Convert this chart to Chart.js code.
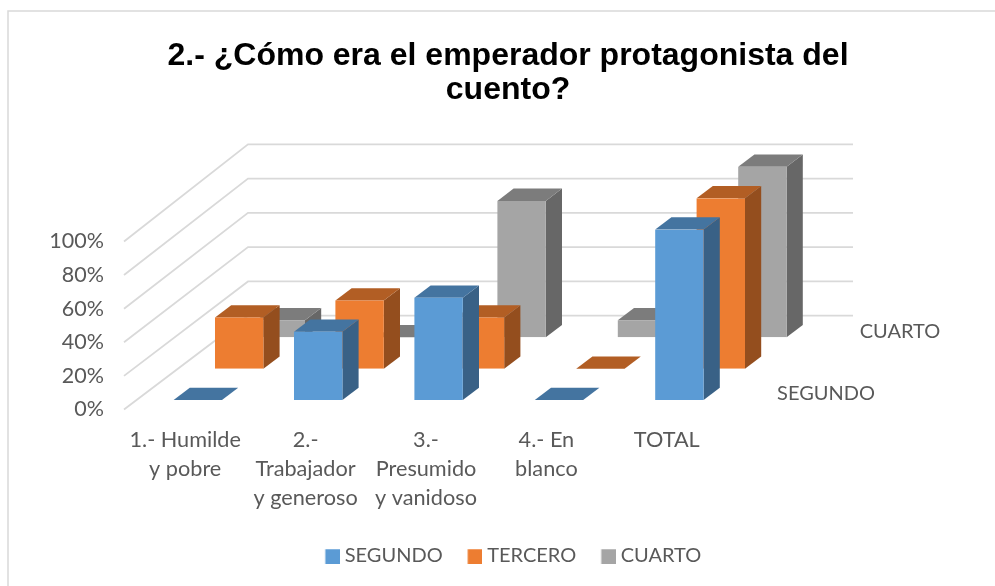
<!DOCTYPE html>
<html><head><meta charset="utf-8">
<style>html,body{margin:0;padding:0;background:#fff}#w{width:995px;height:586px}</style>
<script src="https://cdn.jsdelivr.net/npm/chart.js@4"></script>
</head><body><div id="w"><canvas id="c" width="995" height="586"></canvas></div>
<script>
const categories = [["1.- Humilde","y pobre"],["2.-","Trabajador","y generoso"],["3.-","Presumido","y vanidoso"],["4.- En","blanco"],"TOTAL"];
const segundo = [0, 40, 60, 0, 100];
const tercero = [30, 40, 30, 0, 100];
const cuarto = [10, 0, 80, 10, 100];
const seriesNames = ["SEGUNDO","TERCERO","CUARTO"];
const depthLabels = ["SEGUNDO","CUARTO"];
const titleLines = ["2.- ¿Cómo era el emperador protagonista del","cuento?"];

const FACE = ["#5b9bd5","#ed7d31","#a5a5a5"];
const TOP = ["#4474a0","#b25e24","#7c7c7c"];
const SIDE = ["#396186","#944e1e","#676767"];
const SHIFT = [{dx:12.6,dy:-9.5},{dx:54,dy:-40.8},{dx:95.6,dy:-72.2}];
const K = 171.5/169, DX = 16.2, DY = 12.3;

function swatch(col){
  const c=document.createElement('canvas');c.width=20;c.height=15;
  const g=c.getContext('2d');g.fillStyle=col;g.fillRect(5.5,0.5,14.5,14.5);return c;
}
const depthBars = {
  id:'depthBars',
  beforeDatasetDraw(chart,args){
    const i=args.index,s=SHIFT[i],ctx=chart.ctx,y0=chart.scales.y.getPixelForValue(0);
    ctx.save();
    ctx.transform(1,0,0,K,s.dx,y0+s.dy-K*y0);
    const dy=DY/K;
    args.meta.data.forEach(b=>{
      const l=b.x-b.width/2,r=b.x+b.width/2,t=b.y,bs=b.base;
      ctx.fillStyle=SIDE[i];
      ctx.beginPath();ctx.moveTo(r,t);ctx.lineTo(r+DX,t-dy);ctx.lineTo(r+DX,bs-dy);ctx.lineTo(r,bs);ctx.closePath();ctx.fill();
      ctx.fillStyle=TOP[i];
      ctx.beginPath();ctx.moveTo(l,t);ctx.lineTo(l+DX,t-dy);ctx.lineTo(r+DX,t-dy);ctx.lineTo(r,t);ctx.closePath();ctx.fill();
    });
  },
  afterDatasetDraw(chart){chart.ctx.restore();},
  beforeDatasetsDraw(chart){
    const ctx=chart.ctx,y=chart.scales.y,y0=y.getPixelForValue(0);
    ctx.save();
    ctx.strokeStyle='#d9d9d9';ctx.lineWidth=1.8;
    y.ticks.forEach(t=>{
      const p=y.getPixelForValue(t.value),by=315.7-(y0-p)*172.4/169;
      ctx.beginPath();ctx.moveTo(124,p);ctx.lineTo(248,by);ctx.lineTo(853,by);ctx.stroke();
    });
    ctx.restore();
  },
  afterDraw(chart){
    const ctx=chart.ctx;
    ctx.save();
    ctx.fillStyle='#595959';ctx.font='20px Lato';ctx.textAlign='center';ctx.textBaseline='middle';
    ctx.fillText(depthLabels[0],826,394);
    ctx.fillText(depthLabels[1],900,332);
    ctx.restore();
  },
  beforeDraw(chart){
    const ctx=chart.ctx;
    ctx.save();ctx.strokeStyle='#d9d9d9';ctx.lineWidth=1.5;
    ctx.strokeRect(8,11,990,590);
    ctx.restore();
  },
  afterLayout(chart){chart.legend.left+=5;chart.legend.right+=5;}
};

const mk=(data,i)=>({label:seriesNames[i],data,backgroundColor:FACE[i],borderWidth:0,barPercentage:0.402,categoryPercentage:1,grouped:false,pointStyle:swatch(FACE[i])});
new Chart(document.getElementById('c'),{
  type:'bar',
  data:{labels:categories,datasets:[mk(segundo,0),mk(tercero,1),mk(cuarto,2)]},
  plugins:[depthBars],
  options:{
    responsive:false,animation:false,
    layout:{padding:{left:21,right:0,top:39,bottom:10}},
    plugins:{
      tooltip:{enabled:false},
      title:{display:true,text:titleLines,color:'#000',font:{family:'"Liberation Sans"',size:32,weight:'bold',lineHeight:1.07},padding:{top:0,bottom:134}},
      legend:{position:'bottom',labels:{usePointStyle:true,boxWidth:10,boxHeight:15,padding:24.5,color:'#595959',font:{family:'Lato',size:20}}}
    },
    scales:{
      x:{grid:{display:false},border:{display:false},ticks:{color:'#595959',font:{family:'Lato',size:21.7,lineHeight:1.34},padding:8,maxRotation:0,autoSkip:false},afterFit(s){s.height=112;}},
      y:{min:0,max:100,grid:{display:false},border:{display:false},ticks:{stepSize:20,color:'#595959',font:{family:'Lato',size:21.5},padding:13,callback:v=>v+'%'},afterFit(s){s.width=104;}},
      yR:{position:'right',min:0,max:100,grid:{display:false},border:{display:false},ticks:{display:false},afterFit(s){s.width=268;}}
    }
  }
});
</script></body></html>
